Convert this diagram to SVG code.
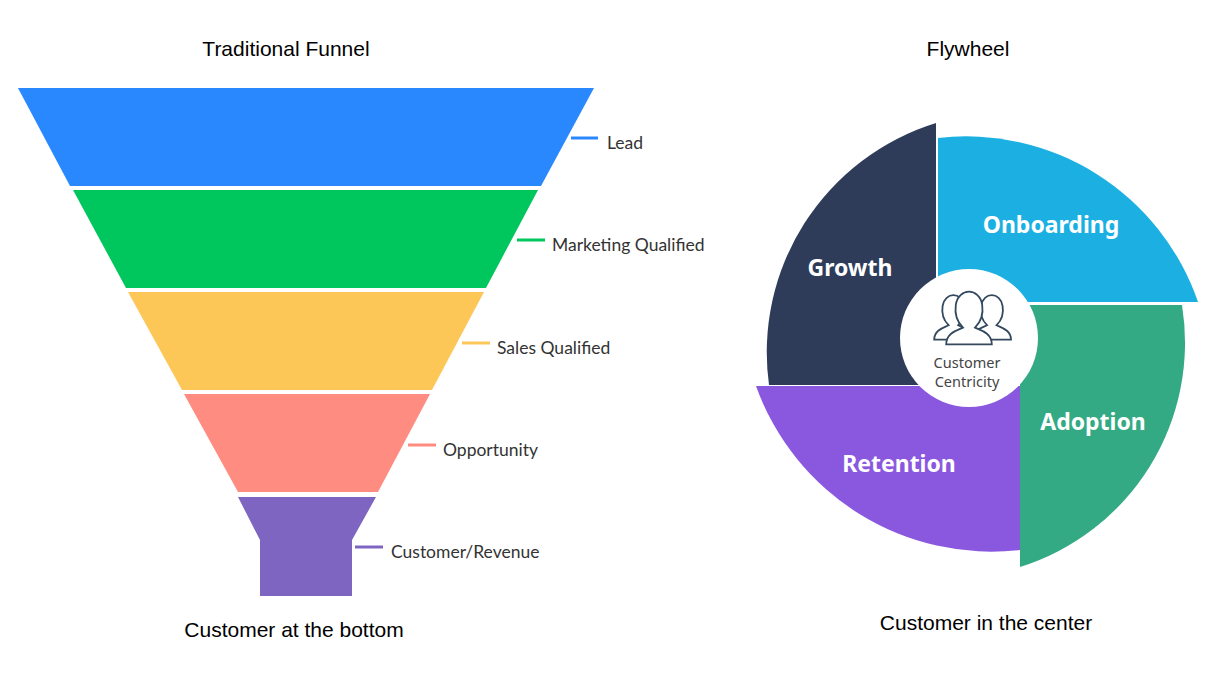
<svg xmlns="http://www.w3.org/2000/svg" width="1232" height="686" viewBox="0 0 1232 686">
<style>
.t{font-family:"Liberation Sans",Arial,sans-serif;font-size:21px;fill:#000;text-anchor:middle}
.l{font-family:Lato,"Open Sans",sans-serif;font-size:17.5px;fill:#333}
.f{font-family:"Noto Sans",sans-serif;font-weight:bold;font-size:23px;fill:#fff;text-anchor:middle}
.tk{stroke-width:3}
.ic{fill:#fff;stroke:#34495e;stroke-width:1.5}
.c{font-family:"Noto Sans",sans-serif;font-size:14.5px;fill:#444;text-anchor:middle}
</style>
<rect width="1232" height="686" fill="#fff"/>
<text class="t" x="286" y="56">Traditional Funnel</text>
<text class="t" x="968" y="56">Flywheel</text>
<text class="t" x="294" y="637">Customer at the bottom</text>
<text class="t" x="986" y="630">Customer in the center</text>
<g id="lead"><polygon points="18,88 594,88 541,186 70,186" fill="#2a88ff"/><line class="tk" x1="571" y1="138" x2="598" y2="138" stroke="#2a88ff"/><text class="l" x="607" y="149">Lead</text></g>
<g id="mq"><polygon points="73,190 538,190 486,288 126,288" fill="#00c65e"/><line class="tk" x1="517" y1="240" x2="545" y2="240" stroke="#00c65e"/><text class="l" x="552" y="251">Marketing Qualified</text></g>
<g id="sq"><polygon points="128,292 484,292 432,390 182,390" fill="#fdc758"/><line class="tk" x1="462" y1="343" x2="490" y2="343" stroke="#fdc758"/><text class="l" x="497" y="354">Sales Qualified</text></g>
<g id="opp"><polygon points="184,394 430,394 378,492 238,492" fill="#ff8c80"/><line class="tk" x1="408" y1="445" x2="436" y2="445" stroke="#ff8c80"/><text class="l" x="443" y="456">Opportunity</text></g>
<g id="cust"><polygon points="238,497 376,497 352,540 352,596 260,596 260,540" fill="#7e65c1"/><line class="tk" x1="355" y1="547" x2="383" y2="547" stroke="#7e65c1"/><text class="l" x="391" y="558">Customer/Revenue</text></g>
<g id="growth"><path d="M936,123 L936,385 L769,385 A240 240 0 0 1 936,123 Z" fill="#2e3c5a"/><text class="f" x="850" y="276">Growth</text></g>
<g id="onboarding"><path d="M938,138 L938,302 L1198,302 A245 245 0 0 0 938,138 Z" fill="#1cb0e2"/><text class="f" x="1051" y="233">Onboarding</text></g>
<g id="adoption"><path d="M1020,305 L1182,305 A235 235 0 0 1 1020,567 Z" fill="#33aa84"/><text class="f" x="1093" y="430">Adoption</text></g>
<g id="retention"><path d="M756,386 L1020,386 L1020,550 A250 250 0 0 1 756,386 Z" fill="#8a58df"/><text class="f" x="899" y="472">Retention</text></g>
<g id="center"><circle cx="969" cy="338" r="69" fill="#fff"/>
<g transform="translate(969,318) scale(1.2) translate(-969,-322)">
<path class="ic" d="M940,340 c0-8 8-10 12-12 c-4-4-6-10-5-16 c1-6 5-9 9-9 c4 0 8 3 9 9 c1 6-1 12-5 16 c4 2 12 4 12 12 Z"/>
<path class="ic" d="M972,340 c0-8 8-10 12-12 c-4-4-6-10-5-16 c1-6 5-9 9-9 c4 0 8 3 9 9 c1 6-1 12-5 16 c4 2 12 4 12 12 Z"/>
<path class="ic" d="M950,344 c0-10 10-12 14-14 c-5-5-7-12-6-19 c1-7 6-11 11-11 c5 0 10 4 11 11 c1 7-1 14-6 19 c4 2 14 4 14 14 Z"/>
</g>
<text class="c" x="967" y="368">Customer</text>
<text class="c" x="967" y="387">Centricity</text></g>
<g id="connectors"/>
</svg>
